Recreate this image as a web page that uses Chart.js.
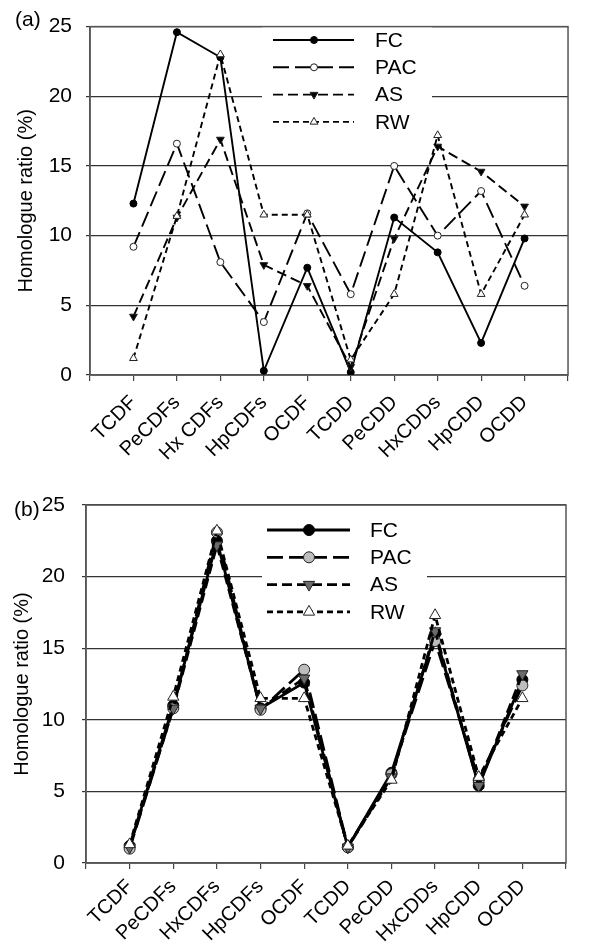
<!DOCTYPE html>
<html>
<head>
<meta charset="utf-8">
<script src="https://cdn.jsdelivr.net/npm/chart.js@4.4.1/dist/chart.umd.min.js"></script>
<style>
  html, body { margin: 0; padding: 0; background: #fff; }
  .panel { position: absolute; left: 0; width: 595px; }
  #wrapA { top: 0; height: 470px; }
  #wrapB { top: 470px; height: 476px; }
</style>
</head>
<body>
<div class="panel" id="wrapA"><canvas id="chartA"></canvas></div>
<div class="panel" id="wrapB"><canvas id="chartB"></canvas></div>
<script>
// =======================================================
// Data
// =======================================================
const categoriesA = ['TCDF', 'PeCDFs', 'Hx CDFs', 'HpCDFs', 'OCDF', 'TCDD', 'PeCDD', 'HxCDDs', 'HpCDD', 'OCDD']
const categoriesB = ['TCDF', 'PeCDFs', 'HxCDFs', 'HpCDFs', 'OCDF', 'TCDD', 'PeCDD', 'HxCDDs', 'HpCDD', 'OCDD']
const seriesNames = ['FC', 'PAC', 'AS', 'RW']
const yTicks = [0, 5, 10, 15, 20, 25]

// panel (a)
const fcA = [12.3, 24.6, 22.8, 0.3, 7.7, 0.2, 11.3, 8.8, 2.3, 9.8]
const pacA = [9.2, 16.6, 8.1, 3.8, 11.6, 5.8, 15.0, 10.0, 13.2, 6.4]
const asA = [4.2, 11.3, 16.9, 7.9, 6.4, 0.6, 9.8, 16.4, 14.6, 12.1]
const rwA = [1.2, 11.4, 23.0, 11.5, 11.5, 1.1, 5.8, 17.2, 5.8, 11.5]

// panel (b)
const fcB = [1.2, 11.0, 22.5, 10.8, 12.6, 1.1, 6.3, 16.0, 5.4, 12.8]
const pacB = [1.0, 10.8, 23.1, 10.7, 13.5, 1.1, 6.2, 15.5, 5.8, 12.4]
const asB = [1.1, 10.8, 22.2, 10.8, 12.9, 1.1, 6.0, 16.2, 5.4, 13.2]
const rwB = [1.3, 11.6, 23.2, 11.5, 11.5, 1.2, 5.8, 17.3, 6.0, 11.5]

// =======================================================
// Styles
// =======================================================
const FONT = "'Liberation Sans', Arial, sans-serif"
const dashes = [[], [16, 6], [10, 5], [6, 4]]
const pointStyles = ['circle', 'circle', 'triangle', 'triangle']
const pointRotations = [0, 0, 180, 0]
const fillsA = ['#000', '#fff', '#000', '#fff']
const fillsB = ['#000', '#bdbdbd', '#6b6b6b', '#fff']
const drawOrder = [3, 2, 1, 0] // RW on top, like Excel

// =======================================================
// Plugins
// =======================================================
const insideLegend = {
  id: 'insideLegend',
  beforeDatasetsDraw(chart, args, opts) {
    const ctx = chart.ctx
    ctx.save()
    ctx.fillStyle = '#fff'
    ctx.fillRect(opts.box[0], opts.box[1], opts.box[2], opts.box[3])
    chart.data.datasets.forEach((ds, i) => {
      const y = opts.rowTop + i * opts.rowGap
      ctx.strokeStyle = ds.borderColor
      ctx.lineWidth = ds.borderWidth
      ctx.setLineDash(ds.borderDash || [])
      ctx.beginPath()
      ctx.moveTo(opts.lineX[0], y)
      ctx.lineTo(opts.lineX[1], y)
      ctx.stroke()
      ctx.setLineDash([])

      ctx.fillStyle = ds.pointBackgroundColor
      ctx.strokeStyle = ds.pointBorderColor
      ctx.lineWidth = ds.pointBorderWidth
      Chart.helpers.drawPoint(ctx, {
        pointStyle: ds.pointStyle,
        rotation: ds.pointRotation || 0,
        radius: ds.pointRadius,
        borderWidth: ds.pointBorderWidth,
      }, opts.markX, y)

      ctx.fillStyle = '#000'
      ctx.font = '21px ' + FONT
      ctx.textAlign = 'left'
      ctx.textBaseline = 'middle'
      ctx.fillText(ds.label, opts.textX, y + 1)
    })
    ctx.restore()
  },
}

const frame = {
  id: 'frame',
  beforeDatasetsDraw(chart) {
    const { ctx, chartArea: a } = chart
    ctx.save()
    ctx.strokeStyle = '#555'
    ctx.lineWidth = 1.5
    ctx.strokeRect(a.left, a.top, a.right - a.left, a.bottom - a.top)
    ctx.restore()
  },
}

const panelLabel = {
  id: 'panelLabel',
  afterDraw(chart, args, opts) {
    const ctx = chart.ctx
    ctx.save()
    ctx.fillStyle = '#000'
    ctx.font = '21px ' + FONT
    ctx.textAlign = 'left'
    ctx.textBaseline = 'middle'
    ctx.fillText(opts.text, opts.x, opts.y)
    ctx.restore()
  },
}

// =======================================================
// Builders
// =======================================================
function makeDatasets(lists, fills, radius, width) {
  return lists.map((values, i) => ({
    label: seriesNames[i],
    data: [null, ...values, null],
    borderColor: '#000',
    borderWidth: width,
    borderDash: dashes[i],
    pointStyle: pointStyles[i],
    pointRotation: pointRotations[i],
    pointRadius: i >= 2 ? radius + 1 : radius,
    pointBackgroundColor: fills[i],
    pointBorderColor: i === 0 ? '#000' : '#222',
    pointBorderWidth: 1,
    tension: 0,
    spanGaps: false,
    order: drawOrder[i],
  }))
}

function makeChart(canvasId, categories, datasets, cfg) {
  return new Chart(document.getElementById(canvasId).getContext('2d'), {
    type: 'line',
    data: {
      labels: ['', ...categories, ''],
      datasets,
    },
    plugins: [insideLegend, frame, panelLabel],
    options: {
      responsive: true,
      maintainAspectRatio: false,
      animation: false,
      layout: { padding: { top: cfg.top, right: cfg.right, left: 0, bottom: 0 } },
      plugins: {
        legend: { display: false },
        tooltip: { enabled: false },
        insideLegend: cfg.legend,
        panelLabel: cfg.label,
      },
      scales: {
        x: {
          offset: false,
          afterFit: (scale) => { scale.height = cfg.xHeight },
          grid: { drawOnChartArea: false, drawTicks: true, tickLength: 6, color: '#444', lineWidth: 1.2 },
          border: { display: true, color: '#555', width: 1.5 },
          ticks: {
            autoSkip: false,
            minRotation: 45,
            maxRotation: 45,
            padding: cfg.xPad,
            color: '#000',
            font: { family: FONT, size: 20 },
          },
        },
        y: {
          min: yTicks[0],
          max: yTicks[yTicks.length - 1],
          afterFit: (scale) => { scale.width = cfg.yWidth },
          afterBuildTicks: (scale) => { scale.ticks = yTicks.map((v) => ({ value: v })) },
          grid: { color: '#333', lineWidth: 1.2, drawTicks: true, tickLength: 4 },
          border: { display: true, color: '#555', width: 1.5 },
          ticks: {
            padding: cfg.yPad,
            color: '#000',
            font: { family: FONT, size: 21 },
          },
          title: {
            display: true,
            text: 'Homologue ratio (%)',
            color: '#000',
            font: { family: FONT, size: 20 },
            padding: { top: cfg.titlePad, bottom: 0 },
          },
        },
      },
    },
  })
}

// =======================================================
// Panels
// =======================================================
makeChart('chartA', categoriesA, makeDatasets([fcA, pacA, asA, rwA], fillsA, 3.5, 1.9), {
  top: 15, right: 4, xHeight: 95, yWidth: 90, yPad: 14, xPad: 10, titlePad: 14,
  legend: { box: [262, 20, 170, 115], rowTop: 40, rowGap: 27.3, lineX: [273, 354], markX: 314, textX: 375 },
  label: { text: '(a)', x: 15, y: 20 },
})

makeChart('chartB', categoriesB, makeDatasets([fcB, pacB, asB, rwB], fillsB, 5.5, 2.8), {
  top: 35, right: 29, xHeight: 83, yWidth: 86, yPad: 17, xPad: 6, titlePad: 10,
  legend: { box: [262, 45, 165, 115], rowTop: 60, rowGap: 27.3, lineX: [267, 350], markX: 309, textX: 370 },
  label: { text: '(b)', x: 14, y: 40 },
})
</script>
</body>
</html>
